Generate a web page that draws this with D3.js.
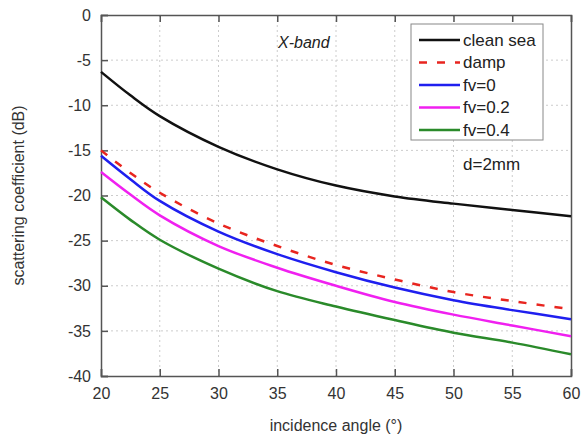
<!DOCTYPE html>
<html>
<head>
<meta charset="utf-8">
<script src="https://cdn.jsdelivr.net/npm/d3@7"></script>
<style>
  body { margin: 0; background: #fff; }
  svg { font-family: "Liberation Sans", Arial, sans-serif; }
  .tick text { fill: #333; font-size: 16px; }
  .grid line { stroke: #ccc; stroke-dasharray: 2,3; }
</style>
</head>
<body>
<div id="chart"></div>
<script>
const angles = [20, 22.5, 25, 30, 35, 40, 45, 50, 55, 60];
const cleanSea = [-6.3, -8.9, -11.2, -14.6, -17.1, -18.9, -20.1, -20.9, -21.6, -22.3];
const damp     = [-15.0, -17.5, -19.7, -23.1, -25.6, -27.7, -29.3, -30.7, -31.7, -32.6];
const fv0      = [-15.6, -18.2, -20.6, -24.0, -26.5, -28.5, -30.2, -31.6, -32.7, -33.7];
const fv02     = [-17.4, -19.9, -22.2, -25.6, -28.0, -30.0, -31.8, -33.2, -34.4, -35.6];
const fv04     = [-20.2, -22.7, -24.9, -28.1, -30.6, -32.3, -33.8, -35.2, -36.3, -37.6];
const xTicks = [20, 25, 30, 35, 40, 45, 50, 55, 60];
const yTicks = [0, -5, -10, -15, -20, -25, -30, -35, -40];

const seriesNames = ['clean sea', 'damp', 'fv=0', 'fv=0.2', 'fv=0.4'];
const seriesValues = [cleanSea, damp, fv0, fv02, fv04];
const seriesColors = ['#111', '#e8251f', '#1f1fef', '#f020f0', '#2a8a2a'];

const width = 583, height = 440;
const margin = {left: 101, right: 12, top: 15, bottom: 64};

let svg = d3.select('#chart').append('svg')
  .attr('width', width)
  .attr('height', height)

let x = d3.scaleLinear().domain([20, 60]).range([margin.left, width - margin.right])
let y = d3.scaleLinear().domain([-40, 0]).range([height - margin.bottom, margin.top])

// grid
let grid = svg.append('g').classed('grid', true)
grid.selectAll('line.v').data(xTicks.slice(1, -1)).enter().append('line')
  .attr('x1', d => x(d)).attr('x2', d => x(d))
  .attr('y1', y(0)).attr('y2', y(-40))
grid.selectAll('line.h').data(yTicks.slice(1, -1)).enter().append('line')
  .attr('x1', x(20)).attr('x2', x(60))
  .attr('y1', d => y(d)).attr('y2', d => y(d))

// axes with inward ticks
let tickLen = 7;
svg.append('g')
  .attr('transform', `translate(0, ${y(-40)})`)
  .call(d3.axisBottom(x).tickValues(xTicks).tickSize(-tickLen).tickPadding(12))
svg.append('g')
  .attr('transform', `translate(0, ${y(0)})`)
  .call(d3.axisTop(x).tickValues(xTicks).tickSize(-tickLen).tickFormat(''))
svg.append('g')
  .attr('transform', `translate(${x(20)}, 0)`)
  .call(d3.axisLeft(y).tickValues(yTicks).tickSize(-tickLen).tickPadding(10).tickFormat(d => String(d)))
svg.append('g')
  .attr('transform', `translate(${x(60)}, 0)`)
  .call(d3.axisRight(y).tickValues(yTicks).tickSize(0).tickFormat(''))

svg.selectAll('.domain').attr('stroke', '#555').attr('stroke-width', 1.5)
svg.selectAll('.tick line').attr('stroke', '#555').attr('stroke-width', 1.5)

// curves
let line = d3.line()
  .x((d, i) => x(angles[i]))
  .y(d => y(d))
  .curve(d3.curveCatmullRom.alpha(0.5))

seriesValues.forEach((vals, k) => {
  svg.append('path')
    .datum(vals)
    .attr('fill', 'none')
    .attr('stroke', seriesColors[k])
    .attr('stroke-width', 2.5)
    .attr('stroke-dasharray', k === 1 ? '8,10' : null)
    .attr('d', line)
})

// legend
let legend = svg.append('g').attr('transform', 'translate(411, 24)')
legend.append('rect')
  .attr('width', 132).attr('height', 116)
  .attr('fill', '#fff').attr('stroke', '#888').attr('stroke-width', 1)
seriesNames.forEach((name, k) => {
  let ly = 16 + k * 22.5;
  legend.append('line')
    .attr('x1', 8).attr('x2', 49).attr('y1', ly).attr('y2', ly)
    .attr('stroke', seriesColors[k]).attr('stroke-width', 2.5)
    .attr('stroke-dasharray', k === 1 ? '8,10' : null)
  legend.append('text')
    .attr('x', 52).attr('y', ly).attr('dy', '0.35em')
    .attr('font-size', 17).attr('fill', '#222')
    .text(name)
})

svg.append('text')
  .attr('x', 463).attr('y', 170)
  .attr('font-size', 17).attr('fill', '#222')
  .text('d=2mm')

svg.append('text')
  .attr('x', 278).attr('y', 48)
  .attr('font-size', 16).attr('font-style', 'italic').attr('fill', '#222')
  .text('X-band')

svg.append('text')
  .attr('x', x(40)).attr('y', 431)
  .attr('text-anchor', 'middle')
  .attr('font-size', 16).attr('fill', '#333')
  .text('incidence angle (°)')

svg.append('text')
  .attr('transform', `translate(24, ${y(-20)}) rotate(-90)`)
  .attr('text-anchor', 'middle')
  .attr('font-size', 16).attr('fill', '#333')
  .text('scattering coefficient (dB)')
</script>
</body>
</html>
